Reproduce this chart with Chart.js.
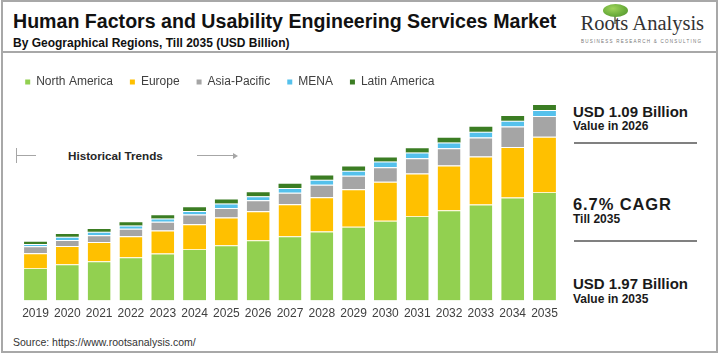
<!DOCTYPE html>
<html><head><meta charset="utf-8">
<script src="https://cdn.jsdelivr.net/npm/chart.js@4.4.1/dist/chart.umd.min.js"></script>
<style>
html,body{margin:0;padding:0;background:#fff;}
body{width:721px;height:356px;position:relative;overflow:hidden;font-family:Arial,"Liberation Sans",sans-serif;}
.t{position:absolute;line-height:1;white-space:nowrap;color:#1a1a1a;}
.b{font-weight:bold;}
#frame{position:absolute;left:1px;top:0;width:713px;height:349px;border:2px solid #a8a8a8;}
#div{position:absolute;left:1px;top:51px;width:717px;height:2px;background:#a8a8a8;}
.rule{position:absolute;left:574px;width:123px;height:2px;background:#808080;}
.gl{position:absolute;background:#a6a6a6;}
#c{position:absolute;left:0;top:59px;}
</style></head><body>
<div id="frame"></div>
<div id="div"></div>

<div class="t b" style="left:13px;top:11.8px;font-size:19.6px;color:#111;">Human Factors and Usability Engineering Services Market</div>
<div class="t b" style="left:13px;top:37.4px;font-size:12px;color:#111;">By Geographical Regions, Till 2035 (USD Billion)</div>

<!-- logo -->
<div style="position:absolute;left:614px;top:15px;width:2px;height:9px;background:#8a8f7a;"></div>
<div style="position:absolute;left:603px;top:4px;width:25px;height:13px;border-radius:50%;background:radial-gradient(ellipse at 40% 35%,#9fd35a 0%,#6cae3c 55%,#4f8f2c 100%);"></div>
<div class="t" style="left:580.5px;top:12.8px;font-size:20.5px;font-family:'Liberation Serif','Times New Roman',serif;color:#333;">Roots Analysis</div>
<div class="t" style="left:581px;top:40px;font-size:4.5px;letter-spacing:1.25px;color:#777;">BUSINESS RESEARCH &amp; CONSULTING</div>

<!-- historical trends annotation -->
<div class="gl" style="left:16px;top:148px;width:1px;height:15px;"></div>
<div class="gl" style="left:17px;top:155px;width:19px;height:1px;"></div>
<div class="t b" style="left:68px;top:149.8px;font-size:11.7px;color:#262626;">Historical Trends</div>
<div class="gl" style="left:197px;top:155px;width:37px;height:1px;"></div>
<div style="position:absolute;left:233px;top:152.5px;width:0;height:0;border-top:3px solid transparent;border-bottom:3px solid transparent;border-left:5px solid #a6a6a6;"></div>

<!-- right panel -->
<div class="t b" style="left:573px;top:103.5px;font-size:15px;">USD 1.09 Billion</div>
<div class="t b" style="left:573px;top:120.4px;font-size:12px;">Value in 2026</div>
<div class="rule" style="top:142.3px;"></div>
<div class="t b" style="left:573px;top:196.2px;font-size:16.5px;letter-spacing:0.9px;">6.7% CAGR</div>
<div class="t b" style="left:573px;top:213.4px;font-size:12px;">Till 2035</div>
<div class="rule" style="top:239.7px;"></div>
<div class="t b" style="left:573px;top:276px;font-size:15px;">USD 1.97 Billion</div>
<div class="t b" style="left:573px;top:293.4px;font-size:12px;">Value in 2035</div>

<div class="t" style="left:13px;top:336.8px;font-size:10.5px;color:#333;">Source: https://www.rootsanalysis.com/</div>

<canvas id="c" width="721" height="268"></canvas>
<script>
const years = ['2019','2020','2021','2022','2023','2024','2025','2026','2027','2028','2029','2030','2031','2032','2033','2034','2035'];
const seriesNames = ['North America','Europe','Asia-Pacific','MENA','Latin America'];
const northAmerica = [0.327,0.367,0.397,0.437,0.473,0.520,0.557,0.607,0.647,0.697,0.743,0.803,0.853,0.910,0.967,1.037,1.093];
const europe       = [0.150,0.183,0.193,0.210,0.234,0.250,0.280,0.293,0.323,0.343,0.377,0.394,0.427,0.450,0.483,0.510,0.557];
const asiaPacific  = [0.070,0.060,0.067,0.076,0.086,0.097,0.096,0.110,0.117,0.127,0.137,0.146,0.153,0.173,0.193,0.206,0.210];
const mena         = [0.023,0.033,0.036,0.034,0.034,0.036,0.044,0.040,0.046,0.050,0.050,0.057,0.057,0.060,0.057,0.057,0.060];
const latinAmerica = [0.023,0.027,0.027,0.033,0.033,0.037,0.040,0.040,0.044,0.043,0.043,0.040,0.043,0.047,0.050,0.050,0.050];

const colors = ['#92D050','#FFC000','#A5A5A5','#55C1EC','#3B7D23'];
const seps = ['#fff4c4','#ffffff','#ffffff','#ffffff','#ffffff'];
const values = [northAmerica, europe, asiaPacific, mena, latinAmerica];

const datasets = values.map((v,i)=>({
  label: seriesNames[i],
  data: v,
  backgroundColor: colors[i],
  borderColor: seps[i],
  borderWidth: i < 4 ? {top:1,right:0,bottom:0,left:0} : 0,
  borderSkipped: false
}));

const defaultGen = Chart.defaults.plugins.legend.labels.generateLabels;
new Chart(document.getElementById('c'), {
  type: 'bar',
  data: { labels: years, datasets },
  options: {
    responsive: false,
    animation: false,
    devicePixelRatio: 1,
    layout: { padding: { left: 8.2, right: 160.6, top: 0, bottom: 0 } },
    plugins: {
      tooltip: { enabled: false },
      legend: {
        position: 'top',
        align: 'start',
        labels: {
          boxWidth: 5, boxHeight: 5, padding: 17,
          color: '#404040',
          font: { size: 12, family: 'Arial, "Liberation Sans", sans-serif' },
          generateLabels: (chart) => defaultGen(chart).map(l => Object.assign(l, { lineWidth: 0, strokeStyle: 'rgba(0,0,0,0)' }))
        }
      }
    },
    scales: {
      x: {
        stacked: true,
        grid: { display: false, drawTicks: false },
        border: { display: false },
        ticks: { color: '#404040', padding: 6, maxRotation: 0, autoSkip: false,
                 font: { size: 12, family: 'Arial, "Liberation Sans", sans-serif' } }
      },
      y: {
        stacked: true,
        min: 0, max: 2.04,
        grid: { display: false, drawTicks: false },
        border: { display: false },
        ticks: { display: false },
        afterFit: (s) => { s.width = 11.4; }
      }
    }
  }
});
</script>
</body></html>
